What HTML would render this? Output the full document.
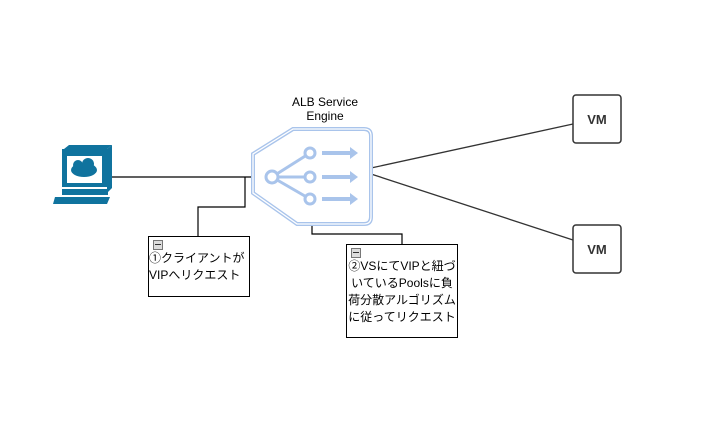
<!DOCTYPE html>
<html><head><meta charset="utf-8"><style>
body{margin:0;background:#fff;width:708px;height:428px;overflow:hidden;font-family:"Liberation Sans","Noto Sans CJK JP",sans-serif}
.n{position:absolute;border:1px solid #000;background:#fff;font-size:12px;line-height:17px;color:#000}
.m{display:block;width:8px;height:8px;border:1px solid #777;background:#ddd;margin:3px 0 0 4px;position:relative}
.m:after{content:"";position:absolute;left:1px;right:1px;top:3px;height:1px;background:#333}
</style></head><body>
<svg width="708" height="428" style="position:absolute;left:0;top:0">
<g stroke="#000" fill="none" stroke-width="1.2">
<path d="M103 177H252"/>
<path d="M245 177V207H198V237"/>
<path d="M312 224V234H402V244"/>
</g>
<g stroke="#333" stroke-width="1.3">
<line x1="371" y1="168" x2="573" y2="124"/>
<line x1="371" y1="174" x2="573" y2="240"/>
</g>
<rect x="573" y="95" width="48" height="48" rx="3" fill="#fff" stroke="#333" stroke-width="1.5"/>
<rect x="573" y="225" width="48" height="48" rx="3" fill="#fff" stroke="#333" stroke-width="1.5"/>
<text x="597" y="124" font-size="13" font-weight="bold" text-anchor="middle" fill="#333" font-family="Liberation Sans">VM</text>
<text x="597" y="254" font-size="13" font-weight="bold" text-anchor="middle" fill="#333" font-family="Liberation Sans">VM</text>
<path d="M293 129H364Q371 129 371 136V217Q371 224 364 224H297L253 193V154Z" fill="#fff" stroke="#a9c4eb" stroke-width="4"/>
<path d="M293 129H364Q371 129 371 136V217Q371 224 364 224H297L253 193V154Z" fill="none" stroke="#fff" stroke-width="1.3"/>
<g stroke="#a9c4eb" stroke-width="3" fill="#fff">
<line x1="272" y1="177" x2="310" y2="153"/><line x1="272" y1="177" x2="310" y2="177"/><line x1="272" y1="177" x2="310" y2="199"/>
<circle cx="272" cy="177" r="6"/><circle cx="310" cy="153" r="5"/><circle cx="310" cy="177" r="5"/><circle cx="310" cy="199" r="5"/>
</g>
<g fill="#a9c4eb">
<path d="M322 151h28v-4l8 6-8 6v-4h-28z"/><path d="M322 175h28v-4l8 6-8 6v-4h-28z"/><path d="M322 197h28v-4l8 6-8 6v-4h-28z"/>
</g>
<text x="325" y="106" font-size="12" text-anchor="middle" font-family="Liberation Sans">ALB Service</text>
<text x="325" y="120" font-size="12" text-anchor="middle" font-family="Liberation Sans">Engine</text>
<g fill="#10739e">
<path d="M64 149l5-4h43l-5 4z"/><path d="M107 149l5-4v43l-5 5z"/>
<rect x="62" y="149" width="45" height="38"/>
<rect x="67" y="156" width="35" height="27" fill="#fff"/>
<ellipse cx="84" cy="170" rx="13" ry="7"/>
<circle cx="78" cy="165" r="5"/><circle cx="88" cy="164" r="6"/>
<rect x="62" y="189" width="46" height="6"/>
<path d="M55 197h55l-3 7H53z"/>
</g>
</svg>
<div class="n" style="left:148px;top:236px;width:100px;height:59px"><span class="m"></span>①クライアントが<br>VIPへリクエスト</div>
<div class="n" style="left:346px;top:244px;width:110px;height:92px;text-align:center"><span class="m"></span>②VSにてVIPと紐づいているPoolsに負荷分散アルゴリズムに従ってリクエスト</div>
</body></html>
